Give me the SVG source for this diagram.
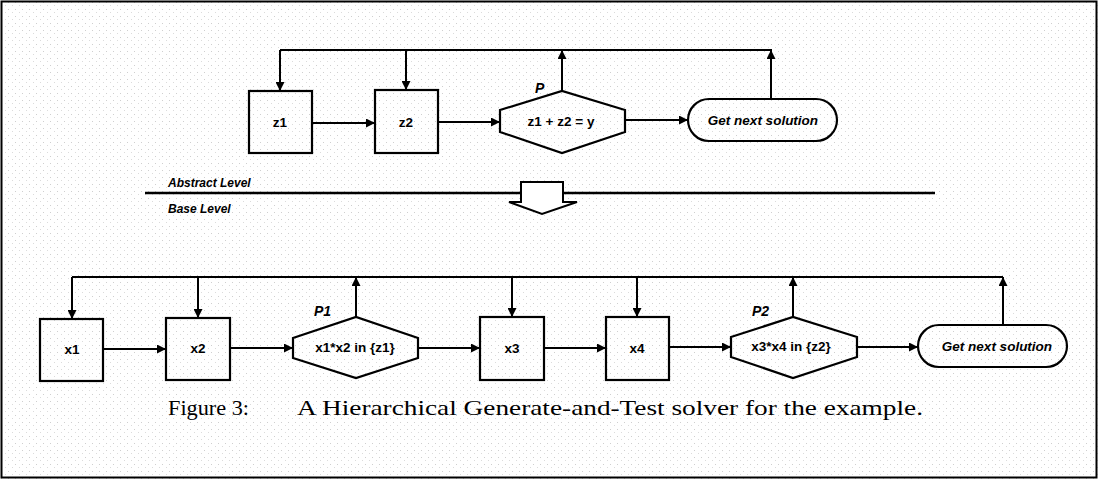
<svg xmlns="http://www.w3.org/2000/svg" width="1098" height="479" viewBox="0 0 1098 479">
<style>
.box{fill:none;stroke:#000;stroke-width:2.2}
.ln{fill:none;stroke:#000;stroke-width:2}
.lbl{font-family:"Liberation Sans",Arial,sans-serif;font-weight:bold;font-size:13.5px;text-anchor:middle;fill:#000}
.it{font-family:"Liberation Sans",Arial,sans-serif;font-weight:bold;font-style:italic;fill:#000}
.cap{font-family:"Liberation Serif","DejaVu Serif",serif;font-size:22px;fill:#000}
</style>
<defs>
<marker id="ah" viewBox="0 0 10 10" refX="10" refY="5" markerWidth="5" markerHeight="4.5" orient="auto" markerUnits="strokeWidth">
<path d="M0,0 L10,5 L0,10 z" fill="#000"/>
</marker>
<pattern id="speck" width="7" height="7" patternUnits="userSpaceOnUse">
<rect x="1" y="2" width="1" height="1" fill="#777"/>
<rect x="5" y="5" width="1" height="1" fill="#999"/>
</pattern>
</defs>
<rect width="1098" height="479" fill="#fff"/>
<rect width="1098" height="479" fill="url(#speck)" opacity="0.35"/>
<rect x="1.5" y="1.5" width="1095" height="476" fill="none" stroke="#000" stroke-width="2"/>

<g id="connectors">
<path class="ln" d="M280,50 H772"/>
<path class="ln" d="M280,50 V91" marker-end="url(#ah)"/>
<path class="ln" d="M406,50 V90" marker-end="url(#ah)"/>
<path class="ln" d="M562,91 V50" marker-end="url(#ah)"/>
<path class="ln" d="M771,99 V50" marker-end="url(#ah)"/>
<path class="ln" d="M312,123 H375" marker-end="url(#ah)"/>
<path class="ln" d="M438,122 H500" marker-end="url(#ah)"/>
<path class="ln" d="M625,120 H688" marker-end="url(#ah)"/>

<path class="ln" d="M72,277 H1003"/>
<path class="ln" d="M72,277 V319" marker-end="url(#ah)"/>
<path class="ln" d="M198,277 V318" marker-end="url(#ah)"/>
<path class="ln" d="M512,277 V317" marker-end="url(#ah)"/>
<path class="ln" d="M637,277 V317" marker-end="url(#ah)"/>
<path class="ln" d="M356,317 V277" marker-end="url(#ah)"/>
<path class="ln" d="M793,317 V277" marker-end="url(#ah)"/>
<path class="ln" d="M1003,325 V277" marker-end="url(#ah)"/>
<path class="ln" d="M103,349 H166" marker-end="url(#ah)"/>
<path class="ln" d="M230,348 H293" marker-end="url(#ah)"/>
<path class="ln" d="M418,348 H480" marker-end="url(#ah)"/>
<path class="ln" d="M544,348 H606" marker-end="url(#ah)"/>
<path class="ln" d="M669,347 H731" marker-end="url(#ah)"/>
<path class="ln" d="M857,347 H918" marker-end="url(#ah)"/>
</g>

<g id="z1"><rect class="box" x="249" y="91" width="63" height="62"/><text class="lbl" x="280" y="127">z1</text></g>
<g id="z2"><rect class="box" x="375" y="90" width="63" height="63"/><text class="lbl" x="406" y="127">z2</text></g>
<g id="P"><polygon class="box" points="500,110 562,91 625,110 625,132 562,153 500,132"/><text class="lbl" x="561" y="126">z1 + z2 = y</text><text class="it" x="535" y="93" style="font-size:14px">P</text></g>
<g id="getnext-top"><rect class="box" x="688" y="99" width="149" height="42" rx="21"/><text class="it" x="763" y="125" text-anchor="middle" style="font-size:13.5px">Get next solution</text></g>

<g id="levels">
<line x1="145" y1="193" x2="935" y2="193" stroke="#000" stroke-width="2.5"/>
<text class="it" x="168" y="187" style="font-size:12px">Abstract Level</text>
<text class="it" x="168" y="213" style="font-size:12px">Base Level</text>
<path d="M521,193 V182 H563 V202 H577 L542,214 L509,202 H521 Z" fill="#fff" stroke="#000" stroke-width="2"/>
</g>

<g id="x1"><rect class="box" x="40" y="319" width="63" height="62"/><text class="lbl" x="72" y="354">x1</text></g>
<g id="x2"><rect class="box" x="166" y="318" width="64" height="62"/><text class="lbl" x="198" y="353">x2</text></g>
<g id="P1"><polygon class="box" points="293,338 356,317 418,338 418,358 356,378 293,358"/><text class="lbl" x="355" y="352">x1*x2 in {z1}</text><text class="it" x="314" y="316" style="font-size:14px">P1</text></g>
<g id="x3"><rect class="box" x="480" y="317" width="64" height="63"/><text class="lbl" x="512" y="353">x3</text></g>
<g id="x4"><rect class="box" x="606" y="317" width="63" height="63"/><text class="lbl" x="637" y="353">x4</text></g>
<g id="P2"><polygon class="box" points="731,337 793,317 857,337 857,357 793,378 731,357"/><text class="lbl" x="791" y="351">x3*x4 in {z2}</text><text class="it" x="752" y="316" style="font-size:14px">P2</text></g>
<g id="getnext-bottom"><rect class="box" x="918" y="325" width="149" height="42" rx="21"/><text class="it" x="997" y="351" text-anchor="middle" style="font-size:13.5px">Get next solution</text></g>

<g id="caption">
<text class="cap" x="168" y="415" textLength="81" lengthAdjust="spacingAndGlyphs">Figure 3:</text>
<text class="cap" x="297" y="415" textLength="626" lengthAdjust="spacingAndGlyphs">A Hierarchical Generate-and-Test solver for the example.</text>
</g>
</svg>
